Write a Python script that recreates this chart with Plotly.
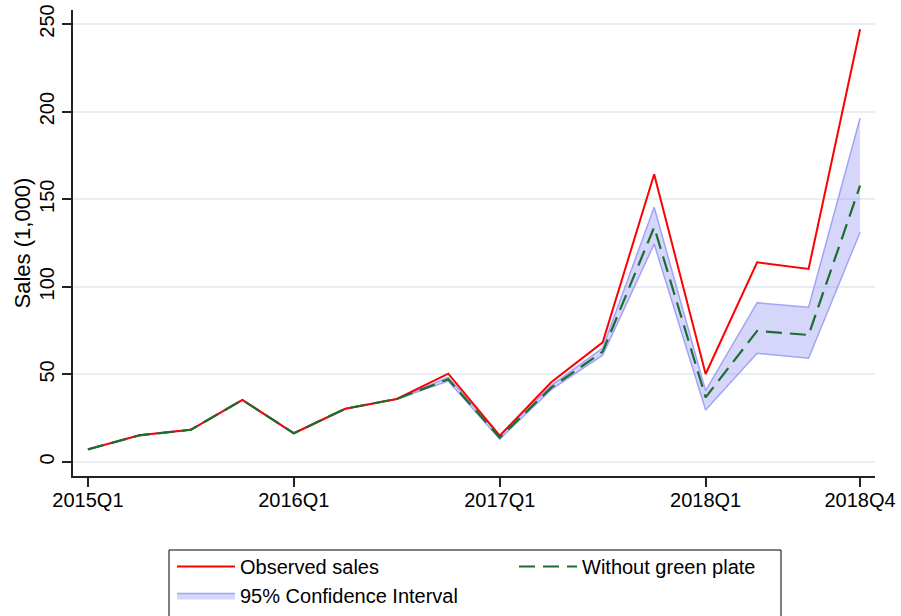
import plotly.graph_objects as go

# Quarterly sales, thousands of units
quarters = ["2015Q1", "2015Q2", "2015Q3", "2015Q4",
            "2016Q1", "2016Q2", "2016Q3", "2016Q4",
            "2017Q1", "2017Q2", "2017Q3", "2017Q4",
            "2018Q1", "2018Q2", "2018Q3", "2018Q4"]
observed = [7.2, 15.2, 18.4, 35.4, 16.4, 30.4, 36.0, 50.4,
            15.0, 45.5, 68.3, 164.2, 50.2, 114.0, 110.2, 247.0]
without_plate = [7.2, 15.2, 18.4, 35.4, 16.4, 30.4, 36.0, 47.2,
                 13.9, 42.4, 63.0, 134.0, 36.9, 74.8, 72.5, 157.7]
ci_low = [7.2, 15.2, 18.4, 35.4, 16.4, 30.4, 36.0, 46.2,
          13.0, 41.3, 61.0, 124.4, 29.7, 62.0, 59.2, 131.1]
ci_high = [7.2, 15.2, 18.4, 35.4, 16.4, 30.4, 36.0, 48.3,
           15.0, 43.6, 65.0, 145.4, 40.7, 90.9, 88.3, 196.2]

x_ticks = ["2015Q1", "2016Q1", "2017Q1", "2018Q1", "2018Q4"]
y_ticks = [0, 50, 100, 150, 200, 250]

FONT = "Liberation Sans, Arial, Helvetica, sans-serif"
CI_FILL = "rgba(120,120,240,0.30)"
CI_EDGE = "rgba(150,150,245,0.85)"

W, H = 901, 616
M_L, M_R, M_T, M_B = 73, 26, 10, 140
PLOT_W, PLOT_H = W - M_L - M_R, H - M_T - M_B

fig = go.Figure()

fig.add_trace(go.Scatter(
    x=quarters, y=ci_low, mode="lines",
    line=dict(color=CI_EDGE, width=1.5),
    showlegend=False, hoverinfo="skip"))
fig.add_trace(go.Scatter(
    x=quarters, y=ci_high, mode="lines", fill="tonexty",
    fillcolor=CI_FILL, line=dict(color=CI_EDGE, width=1.5),
    name="95% Confidence Interval", legendrank=3))
fig.add_trace(go.Scatter(
    x=quarters, y=observed, mode="lines",
    line=dict(color="#ff0000", width=2),
    name="Observed sales", legendrank=1))
fig.add_trace(go.Scatter(
    x=quarters, y=without_plate, mode="lines",
    line=dict(color="#1a6e30", width=2.2, dash="16px,8px"),
    name="Without green plate", legendrank=2))

# frame around the legend (left, top, right in pixels; open past the bottom edge)
box_l, box_t, box_r = 169, 550, 781
fig.add_shape(
    type="rect", xref="paper", yref="paper",
    x0=(box_l - M_L) / PLOT_W, x1=(box_r - M_L) / PLOT_W,
    y0=(M_T + PLOT_H - (H + 10)) / PLOT_H, y1=(M_T + PLOT_H - box_t) / PLOT_H,
    line=dict(color="black", width=1), fillcolor="rgba(0,0,0,0)", layer="above")

fig.update_layout(
    width=W, height=H,
    margin=dict(l=M_L, r=M_R, t=M_T, b=M_B),
    paper_bgcolor="white", plot_bgcolor="white",
    font=dict(family=FONT, size=20, color="black"),
    legend=dict(
        orientation="h", xref="container", yref="container",
        x=(box_l + 3) / W, y=1 - (box_t - 3) / H,
        xanchor="left", yanchor="top",
        entrywidth=269, itemwidth=58,
        borderwidth=0, bgcolor="rgba(0,0,0,0)",
        font=dict(family=FONT, size=20, color="black"),
        traceorder="normal"),
    xaxis=dict(
        type="category", range=[-0.29, 15.29], automargin=False,
        tickmode="array", tickvals=x_ticks, ticktext=x_ticks,
        showgrid=False, zeroline=False,
        showline=True, linecolor="#222", linewidth=1.5,
        ticks="outside", ticklen=9, tickwidth=1.5, tickcolor="#222",
        ticklabelstandoff=-4,
        tickfont=dict(size=20)),
    yaxis=dict(
        range=[-8, 258], automargin=False,
        tickmode="array", tickvals=y_ticks,
        tickangle=-90,
        showgrid=True, gridcolor="#e8eff2", gridwidth=1.5,
        zeroline=False,
        showline=True, linecolor="#222", linewidth=1.5,
        ticks="outside", ticklen=9, tickwidth=1.5, tickcolor="#222",
        tickfont=dict(size=20),
        title=dict(text="Sales (1,000)", font=dict(size=22), standoff=0)),
)

fig.write_html("out.html")
